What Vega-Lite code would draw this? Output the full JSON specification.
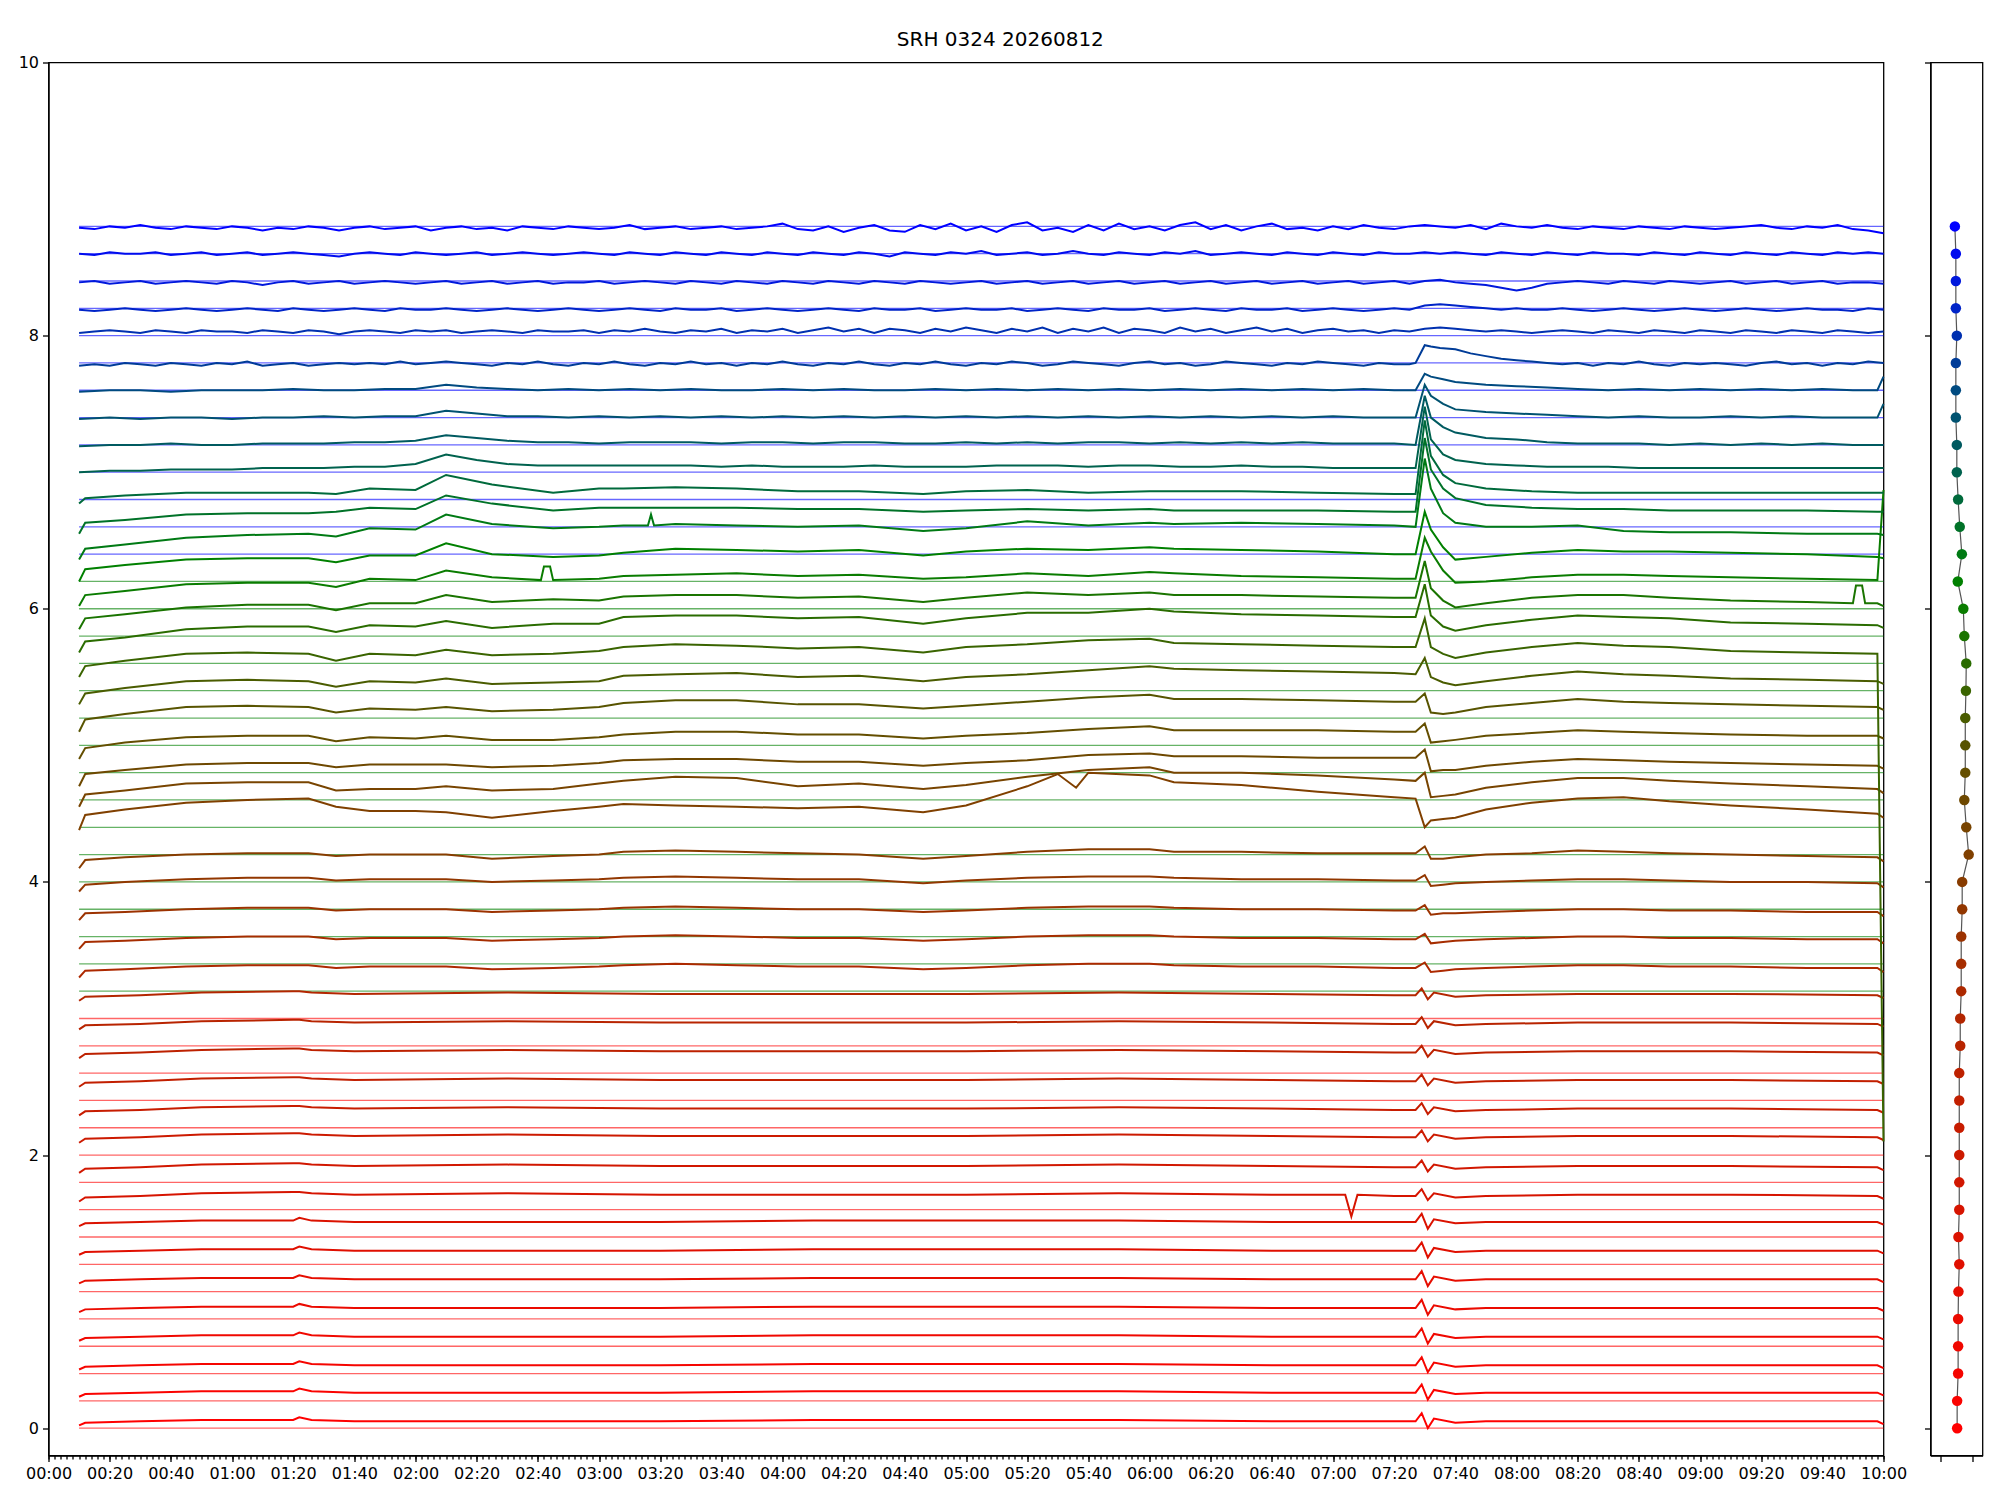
{
"$schema": "https://vega.github.io/schema/vega-lite/v6.json",
"background": "white",
"padding": {"left": 16.5, "top": 29.5, "right": 5, "bottom": 5},
"bounds": "flush",
"spacing": 47,
"title": {"text": "SRH 0324 20260812", "fontSize": 20, "font": "DejaVu Sans", "fontWeight": "normal", "color": "#000000", "anchor": "middle", "offset": -12, "baseline": "alphabetic"},
"config": {
  "font": "DejaVu Sans",
  "view": {"stroke": "#000000", "strokeWidth": 1.3},
  "axis": {"domainColor": "#000000", "domainWidth": 1.3, "tickColor": "#000000", "tickWidth": 1.3, "labelFont": "DejaVu Sans", "labelFontSize": 16, "labelColor": "#000000", "grid": false, "labelPadding": 4, "labelFlush": false, "labelOverlap": false}
},
"datasets": {
"refs": [
{"y":0,"g":"r"},{"y":0.2,"g":"r"},{"y":0.4,"g":"r"},{"y":0.6,"g":"r"},{"y":0.8,"g":"r"},{"y":1.0,"g":"r"},{"y":1.2,"g":"r"},{"y":1.4,"g":"r"},{"y":1.6,"g":"r"},{"y":1.8,"g":"r"},{"y":2.0,"g":"r"},{"y":2.2,"g":"r"},{"y":2.4,"g":"r"},{"y":2.6,"g":"r"},{"y":2.8,"g":"r"},{"y":3.0,"g":"r"},
{"y":3.2,"g":"g"},{"y":3.4,"g":"g"},{"y":3.6,"g":"g"},{"y":3.8,"g":"g"},{"y":4.0,"g":"g"},{"y":4.2,"g":"g"},{"y":4.4,"g":"g"},{"y":4.6,"g":"g"},{"y":4.8,"g":"g"},{"y":5.0,"g":"g"},{"y":5.2,"g":"g"},{"y":5.4,"g":"g"},{"y":5.6,"g":"g"},{"y":5.8,"g":"g"},{"y":6.0,"g":"g"},{"y":6.2,"g":"g"},
{"y":6.4,"g":"b"},{"y":6.6,"g":"b"},{"y":6.8,"g":"b"},{"y":7.0,"g":"b"},{"y":7.2,"g":"b"},{"y":7.4,"g":"b"},{"y":7.6,"g":"b"},{"y":7.8,"g":"b"},{"y":8.0,"g":"b"},{"y":8.2,"g":"b"},{"y":8.4,"g":"b"},{"y":8.6,"g":"b"},{"y":8.8,"g":"b"}
],
"dots": [
{"k":"c0","y":0,"x":0.04},{"k":"c1","y":0.2,"x":0.04},{"k":"c2","y":0.4,"x":0.1},{"k":"c3","y":0.6,"x":0.1},{"k":"c4","y":0.8,"x":0.1},{"k":"c5","y":1.0,"x":0.12},{"k":"c6","y":1.2,"x":0.17},{"k":"c7","y":1.4,"x":0.12},{"k":"c8","y":1.6,"x":0.17},{"k":"c9","y":1.8,"x":0.17},{"k":"c10","y":2.0,"x":0.17},{"k":"c11","y":2.2,"x":0.17},{"k":"c12","y":2.4,"x":0.17},{"k":"c13","y":2.6,"x":0.17},{"k":"c14","y":2.8,"x":0.23},{"k":"c15","y":3.0,"x":0.23},{"k":"c16","y":3.2,"x":0.29},{"k":"c17","y":3.4,"x":0.29},{"k":"c18","y":3.6,"x":0.29},{"k":"c19","y":3.8,"x":0.35},{"k":"c20","y":4.0,"x":0.35},{"k":"c21","y":4.2,"x":0.75},{"k":"c22","y":4.4,"x":0.6},{"k":"c23","y":4.6,"x":0.48},{"k":"c24","y":4.8,"x":0.54},{"k":"c25","y":5.0,"x":0.54},{"k":"c26","y":5.2,"x":0.54},{"k":"c27","y":5.4,"x":0.58},{"k":"c28","y":5.6,"x":0.6},{"k":"c29","y":5.8,"x":0.48},{"k":"c30","y":6.0,"x":0.42},{"k":"c31","y":6.2,"x":0.08},{"k":"c32","y":6.4,"x":0.33},{"k":"c33","y":6.6,"x":0.2},{"k":"c34","y":6.8,"x":0.1},{"k":"c35","y":7.0,"x":0.02},{"k":"c36","y":7.2,"x":0.02},{"k":"c37","y":7.4,"x":-0.04},{"k":"c38","y":7.6,"x":-0.04},{"k":"c39","y":7.8,"x":-0.04},{"k":"c40","y":8.0,"x":0.02},{"k":"c41","y":8.2,"x":-0.04},{"k":"c42","y":8.4,"x":-0.04},{"k":"c43","y":8.6,"x":-0.04},{"k":"c44","y":8.8,"x":-0.1}
],
"traces": [
{"t":10,"c0":0.02,"c1":0.23,"c2":0.43,"c3":0.64,"c4":0.85,"c5":1.06,"c6":1.27,"c7":1.48,"c8":1.66,"c9":1.87,"c10":2.09,"c11":2.29,"c12":2.50,"c13":2.71,"c14":2.92,"c15":3.13},
{"t":12,"c0":0.04,"c1":0.25,"c2":0.45,"c3":0.66,"c4":0.87,"c5":1.08,"c6":1.29,"c7":1.50,"c8":1.69,"c9":1.90,"c10":2.12,"c11":2.32,"c12":2.53,"c13":2.74,"c14":2.95,"c15":3.16},
{"t":30,"c0":0.05,"c1":0.26,"c2":0.46,"c3":0.67,"c4":0.88,"c5":1.09,"c6":1.30,"c7":1.51,"c8":1.70,"c9":1.91,"c10":2.13,"c11":2.33,"c12":2.54,"c13":2.75,"c14":2.96,"c15":3.17},
{"t":50,"c0":0.06,"c1":0.27,"c2":0.47,"c3":0.68,"c4":0.89,"c5":1.10,"c6":1.31,"c7":1.52,"c8":1.72,"c9":1.93,"c10":2.15,"c11":2.35,"c12":2.56,"c13":2.77,"c14":2.98,"c15":3.19},
{"t":80,"c0":0.06,"c1":0.27,"c2":0.47,"c3":0.68,"c4":0.89,"c5":1.10,"c6":1.31,"c7":1.52,"c8":1.73,"c9":1.94,"c10":2.16,"c11":2.36,"c12":2.57,"c13":2.78,"c14":2.99,"c15":3.20},
{"t":82,"c0":0.08,"c1":0.29,"c2":0.49,"c3":0.70,"c4":0.91,"c5":1.12,"c6":1.33,"c7":1.54,"c8":1.73,"c9":1.94,"c10":2.16,"c11":2.36,"c12":2.57,"c13":2.78,"c14":2.99,"c15":3.20},
{"t":86,"c0":0.06,"c1":0.27,"c2":0.47,"c3":0.68,"c4":0.89,"c5":1.10,"c6":1.31,"c7":1.52,"c8":1.72,"c9":1.93,"c10":2.15,"c11":2.35,"c12":2.56,"c13":2.77,"c14":2.98,"c15":3.19},
{"t":100,"c0":0.05,"c1":0.26,"c2":0.46,"c3":0.67,"c4":0.88,"c5":1.09,"c6":1.30,"c7":1.51,"c8":1.71,"c9":1.92,"c10":2.14,"c11":2.34,"c12":2.55,"c13":2.76,"c14":2.97,"c15":3.18},
{"t":150,"c0":0.05,"c1":0.26,"c2":0.46,"c3":0.67,"c4":0.88,"c5":1.09,"c6":1.30,"c7":1.51,"c8":1.72,"c9":1.93,"c10":2.15,"c11":2.35,"c12":2.56,"c13":2.77,"c14":2.98,"c15":3.19},
{"t":200,"c0":0.05,"c1":0.26,"c2":0.46,"c3":0.67,"c4":0.88,"c5":1.09,"c6":1.30,"c7":1.51,"c8":1.71,"c9":1.92,"c10":2.14,"c11":2.34,"c12":2.55,"c13":2.76,"c14":2.97,"c15":3.18},
{"t":250,"c0":0.06,"c1":0.27,"c2":0.47,"c3":0.68,"c4":0.89,"c5":1.10,"c6":1.31,"c7":1.52,"c8":1.71,"c9":1.92,"c10":2.14,"c11":2.34,"c12":2.55,"c13":2.76,"c14":2.97,"c15":3.18},
{"t":300,"c0":0.06,"c1":0.27,"c2":0.47,"c3":0.68,"c4":0.89,"c5":1.10,"c6":1.31,"c7":1.52,"c8":1.71,"c9":1.92,"c10":2.14,"c11":2.34,"c12":2.55,"c13":2.76,"c14":2.97,"c15":3.18},
{"t":350,"c0":0.06,"c1":0.27,"c2":0.47,"c3":0.68,"c4":0.89,"c5":1.10,"c6":1.31,"c7":1.52,"c8":1.72,"c9":1.93,"c10":2.15,"c11":2.35,"c12":2.56,"c13":2.77,"c14":2.98,"c15":3.19},
{"t":400,"c0":0.05,"c1":0.26,"c2":0.46,"c3":0.67,"c4":0.88,"c5":1.09,"c6":1.30,"c7":1.51,"c8":1.71,"c9":1.92,"c10":2.14,"c11":2.34,"c12":2.55,"c13":2.76,"c14":2.97,"c15":3.18},
{"t":424,"c8":1.71},
{"t":426,"c8":1.55},
{"t":428,"c8":1.71},
{"t":440,"c0":0.05,"c1":0.26,"c2":0.46,"c3":0.67,"c4":0.88,"c5":1.09,"c6":1.30,"c7":1.51,"c8":1.70,"c9":1.91,"c10":2.13,"c11":2.33,"c12":2.54,"c13":2.75,"c14":2.96,"c15":3.17},
{"t":447,"c0":0.05,"c1":0.26,"c2":0.46,"c3":0.67,"c4":0.88,"c5":1.09,"c6":1.30,"c7":1.51,"c8":1.70,"c9":1.91,"c10":2.13,"c11":2.33,"c12":2.54,"c13":2.75,"c14":2.96,"c15":3.17},
{"t":449,"c0":0.11,"c1":0.32,"c2":0.52,"c3":0.73,"c4":0.94,"c5":1.15,"c6":1.36,"c7":1.57,"c8":1.75,"c9":1.96,"c10":2.18,"c11":2.38,"c12":2.59,"c13":2.80,"c14":3.01,"c15":3.22},
{"t":451,"c0":0.00,"c1":0.21,"c2":0.41,"c3":0.62,"c4":0.83,"c5":1.04,"c6":1.25,"c7":1.46,"c8":1.67,"c9":1.88,"c10":2.10,"c11":2.30,"c12":2.51,"c13":2.72,"c14":2.93,"c15":3.14},
{"t":453,"c0":0.07,"c1":0.28,"c2":0.48,"c3":0.69,"c4":0.90,"c5":1.11,"c6":1.32,"c7":1.53,"c8":1.72,"c9":1.93,"c10":2.15,"c11":2.35,"c12":2.56,"c13":2.77,"c14":2.98,"c15":3.19},
{"t":460,"c0":0.04,"c1":0.25,"c2":0.45,"c3":0.66,"c4":0.87,"c5":1.08,"c6":1.29,"c7":1.50,"c8":1.69,"c9":1.90,"c10":2.12,"c11":2.32,"c12":2.53,"c13":2.74,"c14":2.95,"c15":3.16},
{"t":470,"c0":0.05,"c1":0.26,"c2":0.46,"c3":0.67,"c4":0.88,"c5":1.09,"c6":1.30,"c7":1.51,"c8":1.70,"c9":1.91,"c10":2.13,"c11":2.33,"c12":2.54,"c13":2.75,"c14":2.96,"c15":3.17},
{"t":500,"c0":0.05,"c1":0.26,"c2":0.46,"c3":0.67,"c4":0.88,"c5":1.09,"c6":1.30,"c7":1.51,"c8":1.71,"c9":1.92,"c10":2.14,"c11":2.34,"c12":2.55,"c13":2.76,"c14":2.97,"c15":3.18},
{"t":550,"c0":0.05,"c1":0.26,"c2":0.46,"c3":0.67,"c4":0.88,"c5":1.09,"c6":1.30,"c7":1.51,"c8":1.71,"c9":1.92,"c10":2.14,"c11":2.34,"c12":2.55,"c13":2.76,"c14":2.97,"c15":3.18},
{"t":598,"c0":0.05,"c1":0.26,"c2":0.46,"c3":0.67,"c4":0.88,"c5":1.09,"c6":1.30,"c7":1.51,"c8":1.70,"c9":1.91,"c10":2.13,"c11":2.33,"c12":2.54,"c13":2.75,"c14":2.96,"c15":3.17},
{"t":600,"c0":0.03,"c1":0.24,"c2":0.44,"c3":0.65,"c4":0.86,"c5":1.07,"c6":1.28,"c7":1.49,"c8":1.68,"c9":1.89,"c10":2.11,"c11":2.31,"c12":2.52,"c13":2.73,"c14":2.94,"c15":3.15},

{"t":10,"c16":3.30,"c17":3.51,"c18":3.72,"c19":3.93,"c20":4.10,"c21":4.38,"c22":4.55,"c23":4.70,"c24":4.90,"c25":5.10,"c26":5.30,"c27":5.50,"c28":5.68,"c29":5.85,"c30":6.02,"c31":6.20,"c32":6.36,"c33":6.55,"c34":6.77},
{"t":12,"c16":3.35,"c17":3.56,"c18":3.77,"c19":3.98,"c20":4.16,"c21":4.49,"c22":4.64,"c23":4.79,"c24":4.98,"c25":5.19,"c26":5.38,"c27":5.58,"c28":5.76,"c29":5.93,"c30":6.10,"c31":6.29,"c32":6.44,"c33":6.63,"c34":6.81},
{"t":25,"c16":3.36,"c17":3.57,"c18":3.78,"c19":4.00,"c20":4.18,"c21":4.53,"c22":4.67,"c23":4.82,"c24":5.02,"c25":5.23,"c26":5.42,"c27":5.62,"c28":5.79,"c29":5.96,"c30":6.13,"c31":6.32,"c32":6.47,"c33":6.65,"c34":6.83},
{"t":45,"c16":3.38,"c17":3.59,"c18":3.80,"c19":4.02,"c20":4.20,"c21":4.58,"c22":4.72,"c23":4.86,"c24":5.06,"c25":5.28,"c26":5.47,"c27":5.67,"c28":5.85,"c29":6.01,"c30":6.18,"c31":6.36,"c32":6.52,"c33":6.69,"c34":6.85},
{"t":65,"c16":3.39,"c17":3.60,"c18":3.81,"c19":4.03,"c20":4.21,"c21":4.60,"c22":4.73,"c23":4.87,"c24":5.07,"c25":5.29,"c26":5.48,"c27":5.68,"c28":5.87,"c29":6.03,"c30":6.19,"c31":6.37,"c32":6.54,"c33":6.70,"c34":6.85},
{"t":85,"c16":3.39,"c17":3.60,"c18":3.81,"c19":4.03,"c20":4.21,"c21":4.61,"c22":4.73,"c23":4.87,"c24":5.07,"c25":5.28,"c26":5.47,"c27":5.67,"c28":5.87,"c29":6.03,"c30":6.19,"c31":6.37,"c32":6.55,"c33":6.70,"c34":6.85},
{"t":94,"c16":3.37,"c17":3.58,"c18":3.79,"c19":4.01,"c20":4.19,"c21":4.55,"c22":4.67,"c23":4.84,"c24":5.03,"c25":5.24,"c26":5.43,"c27":5.62,"c28":5.83,"c29":5.99,"c30":6.16,"c31":6.34,"c32":6.53,"c33":6.71,"c34":6.84},
{"t":105,"c16":3.38,"c17":3.59,"c18":3.80,"c19":4.02,"c20":4.20,"c21":4.52,"c22":4.68,"c23":4.86,"c24":5.06,"c25":5.27,"c26":5.47,"c27":5.67,"c28":5.88,"c29":6.04,"c30":6.22,"c31":6.39,"c32":6.59,"c33":6.74,"c34":6.88},
{"t":120,"c16":3.38,"c17":3.59,"c18":3.80,"c19":4.02,"c20":4.20,"c21":4.52,"c22":4.68,"c23":4.86,"c24":5.05,"c25":5.26,"c26":5.46,"c27":5.66,"c28":5.87,"c29":6.04,"c30":6.21,"c31":6.39,"c32":6.58,"c33":6.73,"c34":6.87},
{"t":130,"c16":3.38,"c17":3.59,"c18":3.80,"c19":4.02,"c20":4.20,"c21":4.51,"c22":4.70,"c23":4.86,"c24":5.07,"c25":5.28,"c26":5.49,"c27":5.70,"c28":5.91,"c29":6.10,"c30":6.28,"c31":6.48,"c32":6.69,"c33":6.83,"c34":6.98},
{"t":145,"c16":3.36,"c17":3.57,"c18":3.78,"c19":4.00,"c20":4.17,"c21":4.47,"c22":4.67,"c23":4.84,"c24":5.04,"c25":5.25,"c26":5.45,"c27":5.66,"c28":5.86,"c29":6.05,"c30":6.23,"c31":6.40,"c32":6.62,"c33":6.77,"c34":6.91},
{"t":161,"c30":6.21},
{"t":162,"c30":6.31},
{"t":164,"c30":6.31},
{"t":165,"c16":3.37,"c17":3.58,"c18":3.79,"c19":4.01,"c20":4.19,"c21":4.52,"c22":4.68,"c23":4.85,"c24":5.04,"c25":5.26,"c26":5.46,"c27":5.67,"c28":5.89,"c29":6.07,"c30":6.21,"c31":6.38,"c32":6.59,"c33":6.72,"c34":6.85},
{"t":180,"c16":3.38,"c17":3.59,"c18":3.80,"c19":4.02,"c20":4.20,"c21":4.55,"c22":4.72,"c23":4.87,"c24":5.06,"c25":5.28,"c26":5.47,"c27":5.69,"c28":5.89,"c29":6.06,"c30":6.22,"c31":6.39,"c32":6.60,"c33":6.74,"c34":6.88},
{"t":188,"c16":3.39,"c17":3.60,"c18":3.81,"c19":4.03,"c20":4.22,"c21":4.57,"c22":4.74,"c23":4.89,"c24":5.08,"c25":5.31,"c26":5.51,"c27":5.72,"c28":5.94,"c29":6.09,"c30":6.24,"c31":6.41,"c32":6.61,"c33":6.74,"c34":6.88},
{"t":196,"c32":6.61},
{"t":197,"c32":6.69},
{"t":198,"c32":6.61},
{"t":205,"c16":3.40,"c17":3.61,"c18":3.82,"c19":4.04,"c20":4.23,"c21":4.56,"c22":4.77,"c23":4.90,"c24":5.10,"c25":5.33,"c26":5.52,"c27":5.74,"c28":5.95,"c29":6.10,"c30":6.25,"c31":6.44,"c32":6.62,"c33":6.74,"c34":6.89},
{"t":225,"c16":3.39,"c17":3.60,"c18":3.81,"c19":4.03,"c20":4.22,"c21":4.55,"c22":4.76,"c23":4.90,"c24":5.10,"c25":5.33,"c26":5.53,"c27":5.73,"c28":5.95,"c29":6.10,"c30":6.26,"c31":6.43,"c32":6.61,"c33":6.74,"c34":6.88},
{"t":245,"c16":3.38,"c17":3.59,"c18":3.80,"c19":4.02,"c20":4.21,"c21":4.54,"c22":4.70,"c23":4.88,"c24":5.08,"c25":5.30,"c26":5.50,"c27":5.71,"c28":5.93,"c29":6.08,"c30":6.24,"c31":6.42,"c32":6.60,"c33":6.73,"c34":6.86},
{"t":265,"c16":3.38,"c17":3.59,"c18":3.80,"c19":4.02,"c20":4.20,"c21":4.55,"c22":4.72,"c23":4.88,"c24":5.08,"c25":5.30,"c26":5.51,"c27":5.72,"c28":5.94,"c29":6.09,"c30":6.25,"c31":6.43,"c32":6.61,"c33":6.73,"c34":6.86},
{"t":286,"c16":3.36,"c17":3.57,"c18":3.78,"c19":3.99,"c20":4.17,"c21":4.51,"c22":4.68,"c23":4.85,"c24":5.05,"c25":5.27,"c26":5.47,"c27":5.68,"c28":5.89,"c29":6.05,"c30":6.22,"c31":6.39,"c32":6.57,"c33":6.71,"c34":6.84},
{"t":300,"c16":3.37,"c17":3.58,"c18":3.79,"c19":4.01,"c20":4.19,"c21":4.56,"c22":4.71,"c23":4.87,"c24":5.07,"c25":5.29,"c26":5.50,"c27":5.72,"c28":5.93,"c29":6.08,"c30":6.23,"c31":6.42,"c32":6.59,"c33":6.72,"c34":6.86},
{"t":320,"c16":3.39,"c17":3.60,"c18":3.81,"c19":4.03,"c20":4.22,"c21":4.70,"c22":4.77,"c23":4.89,"c24":5.09,"c25":5.32,"c26":5.52,"c27":5.74,"c28":5.97,"c29":6.12,"c30":6.26,"c31":6.44,"c32":6.64,"c33":6.73,"c34":6.87},
{"t":330,"c21":4.79},
{"t":336,"c21":4.69},
{"t":340,"c16":3.40,"c17":3.61,"c18":3.82,"c19":4.04,"c20":4.24,"c21":4.80,"c22":4.82,"c23":4.93,"c24":5.12,"c25":5.35,"c26":5.55,"c27":5.77,"c28":5.97,"c29":6.10,"c30":6.24,"c31":6.43,"c32":6.61,"c33":6.72,"c34":6.85},
{"t":360,"c16":3.40,"c17":3.61,"c18":3.82,"c19":4.04,"c20":4.24,"c21":4.78,"c22":4.84,"c23":4.94,"c24":5.14,"c25":5.37,"c26":5.58,"c27":5.78,"c28":6.00,"c29":6.12,"c30":6.27,"c31":6.45,"c32":6.63,"c33":6.73,"c34":6.86},
{"t":368,"c16":3.39,"c17":3.60,"c18":3.81,"c19":4.03,"c20":4.22,"c21":4.73,"c22":4.80,"c23":4.92,"c24":5.11,"c25":5.34,"c26":5.56,"c27":5.75,"c28":5.98,"c29":6.10,"c30":6.26,"c31":6.44,"c32":6.62,"c33":6.72,"c34":6.86},
{"t":390,"c16":3.38,"c17":3.59,"c18":3.80,"c19":4.02,"c20":4.22,"c21":4.71,"c22":4.80,"c23":4.92,"c24":5.11,"c25":5.34,"c26":5.55,"c27":5.74,"c28":5.96,"c29":6.10,"c30":6.24,"c31":6.43,"c32":6.63,"c33":6.72,"c34":6.86},
{"t":415,"c16":3.38,"c17":3.59,"c18":3.80,"c19":4.02,"c20":4.21,"c21":4.66,"c22":4.78,"c23":4.91,"c24":5.11,"c25":5.33,"c26":5.54,"c27":5.73,"c28":5.95,"c29":6.09,"c30":6.23,"c31":6.42,"c32":6.62,"c33":6.72,"c34":6.85},
{"t":440,"c16":3.37,"c17":3.58,"c18":3.79,"c19":4.01,"c20":4.21,"c21":4.62,"c22":4.75,"c23":4.91,"c24":5.10,"c25":5.32,"c26":5.53,"c27":5.72,"c28":5.94,"c29":6.08,"c30":6.22,"c31":6.40,"c32":6.61,"c33":6.71,"c34":6.84},
{"t":447,"c16":3.37,"c17":3.58,"c18":3.79,"c19":4.01,"c20":4.21,"c21":4.61,"c22":4.74,"c23":4.91,"c24":5.10,"c25":5.32,"c26":5.52,"c27":5.72,"c28":5.94,"c29":6.08,"c30":6.22,"c31":6.40,"c32":6.60,"c33":6.71,"c34":6.84},
{"t":450,"c16":3.41,"c17":3.62,"c18":3.83,"c19":4.05,"c20":4.26,"c21":4.40,"c22":4.80,"c23":4.97,"c24":5.16,"c25":5.38,"c26":5.64,"c27":5.93,"c28":6.18,"c29":6.35,"c30":6.52,"c31":6.71,"c32":7.10,"c33":7.25,"c34":7.38},
{"t":452,"c16":3.34,"c17":3.55,"c18":3.76,"c19":3.97,"c20":4.17,"c21":4.45,"c22":4.62,"c23":4.81,"c24":5.02,"c25":5.24,"c26":5.50,"c27":5.72,"c28":5.95,"c29":6.15,"c30":6.42,"c31":6.58,"c32":6.88,"c33":7.02,"c34":7.12},
{"t":456,"c16":3.35,"c17":3.56,"c18":3.77,"c19":3.98,"c20":4.17,"c21":4.46,"c22":4.63,"c23":4.82,"c24":5.03,"c25":5.23,"c26":5.46,"c27":5.67,"c28":5.87,"c29":6.06,"c30":6.28,"c31":6.45,"c32":6.70,"c33":6.88,"c34":6.98},
{"t":460,"c16":3.36,"c17":3.57,"c18":3.77,"c19":3.99,"c20":4.18,"c21":4.47,"c22":4.64,"c23":4.82,"c24":5.04,"c25":5.24,"c26":5.44,"c27":5.64,"c28":5.84,"c29":6.01,"c30":6.19,"c31":6.36,"c32":6.63,"c33":6.81,"c34":6.92},
{"t":470,"c16":3.37,"c17":3.58,"c18":3.78,"c19":4.00,"c20":4.20,"c21":4.53,"c22":4.69,"c23":4.85,"c24":5.07,"c25":5.28,"c26":5.47,"c27":5.68,"c28":5.88,"c29":6.04,"c30":6.20,"c31":6.38,"c32":6.60,"c33":6.76,"c34":6.88},
{"t":485,"c16":3.38,"c17":3.59,"c18":3.79,"c19":4.01,"c20":4.21,"c21":4.58,"c22":4.73,"c23":4.88,"c24":5.09,"c25":5.31,"c26":5.51,"c27":5.72,"c28":5.92,"c29":6.08,"c30":6.23,"c31":6.41,"c32":6.60,"c33":6.74,"c34":6.86},
{"t":500,"c16":3.39,"c17":3.60,"c18":3.80,"c19":4.02,"c20":4.23,"c21":4.61,"c22":4.76,"c23":4.90,"c24":5.11,"c25":5.34,"c26":5.54,"c27":5.75,"c28":5.95,"c29":6.10,"c30":6.25,"c31":6.43,"c32":6.61,"c33":6.73,"c34":6.85},
{"t":515,"c16":3.39,"c17":3.60,"c18":3.80,"c19":4.02,"c20":4.22,"c21":4.62,"c22":4.76,"c23":4.89,"c24":5.10,"c25":5.32,"c26":5.52,"c27":5.73,"c28":5.94,"c29":6.10,"c30":6.25,"c31":6.42,"c32":6.57,"c33":6.73,"c34":6.85},
{"t":530,"c16":3.38,"c17":3.59,"c18":3.79,"c19":4.01,"c20":4.21,"c21":4.59,"c22":4.74,"c23":4.88,"c24":5.09,"c25":5.31,"c26":5.51,"c27":5.72,"c28":5.93,"c29":6.08,"c30":6.24,"c31":6.42,"c32":6.56,"c33":6.72,"c34":6.85},
{"t":550,"c16":3.38,"c17":3.59,"c18":3.79,"c19":4.00,"c20":4.20,"c21":4.56,"c22":4.72,"c23":4.87,"c24":5.08,"c25":5.30,"c26":5.49,"c27":5.69,"c28":5.90,"c29":6.06,"c30":6.23,"c31":6.41,"c32":6.56,"c33":6.72,"c34":6.85},
{"t":575,"c16":3.37,"c17":3.58,"c18":3.78,"c19":4.00,"c20":4.19,"c21":4.53,"c22":4.70,"c23":4.86,"c24":5.07,"c25":5.29,"c26":5.48,"c27":5.68,"c28":5.89,"c29":6.05,"c30":6.22,"c31":6.40,"c32":6.55,"c33":6.72,"c34":6.85},
{"t":590,"c29":6.04},
{"t":591,"c29":6.17},
{"t":593,"c29":6.17},
{"t":594,"c29":6.04},
{"t":598,"c16":3.37,"c17":3.58,"c18":3.78,"c19":3.99,"c20":4.18,"c21":4.50,"c22":4.68,"c23":4.85,"c24":5.07,"c25":5.28,"c26":5.47,"c27":5.67,"c28":5.88,"c29":6.04,"c30":6.21,"c31":6.38,"c32":6.55,"c33":6.71,"c34":6.85},
{"t":600,"c16":3.34,"c17":3.55,"c18":3.75,"c19":3.96,"c20":4.15,"c21":4.47,"c22":4.65,"c23":4.83,"c24":5.05,"c25":5.26,"c26":5.45,"c27":2.10,"c28":5.86,"c29":6.02,"c30":6.87,"c31":6.37,"c32":6.54,"c33":6.71,"c34":6.85},

{"t":10,"c35":7.00,"c36":7.19,"c37":7.39,"c38":7.59,"c39":7.78,"c40":8.02,"c41":8.19,"c42":8.39,"c43":8.60,"c44":8.79},
{"t":15,"c39":7.79,"c40":8.03,"c41":8.18,"c42":8.40,"c43":8.59,"c44":8.78},
{"t":20,"c35":7.01,"c36":7.20,"c37":7.40,"c38":7.60,"c39":7.78,"c40":8.04,"c41":8.19,"c42":8.38,"c43":8.61,"c44":8.80},
{"t":25,"c39":7.80,"c40":8.03,"c41":8.20,"c42":8.39,"c43":8.60,"c44":8.79},
{"t":30,"c35":7.01,"c36":7.20,"c37":7.39,"c38":7.60,"c39":7.79,"c40":8.02,"c41":8.19,"c42":8.40,"c43":8.60,"c44":8.81},
{"t":35,"c39":7.78,"c40":8.04,"c41":8.18,"c42":8.38,"c43":8.61,"c44":8.79},
{"t":40,"c35":7.02,"c36":7.21,"c37":7.40,"c38":7.59,"c39":7.80,"c40":8.03,"c41":8.19,"c42":8.39,"c43":8.59,"c44":8.78},
{"t":45,"c39":7.79,"c40":8.02,"c41":8.20,"c42":8.40,"c43":8.60,"c44":8.80},
{"t":50,"c35":7.02,"c36":7.20,"c37":7.40,"c38":7.60,"c39":7.78,"c40":8.04,"c41":8.19,"c42":8.39,"c43":8.61,"c44":8.79},
{"t":55,"c39":7.80,"c40":8.03,"c41":8.18,"c42":8.38,"c43":8.59,"c44":8.78},
{"t":60,"c35":7.02,"c36":7.20,"c37":7.39,"c38":7.60,"c39":7.79,"c40":8.03,"c41":8.19,"c42":8.40,"c43":8.60,"c44":8.80},
{"t":65,"c39":7.81,"c40":8.02,"c41":8.20,"c42":8.39,"c43":8.61,"c44":8.79},
{"t":70,"c35":7.03,"c36":7.21,"c37":7.40,"c38":7.60,"c39":7.78,"c40":8.04,"c41":8.19,"c42":8.37,"c43":8.59,"c44":8.77},
{"t":75,"c39":7.79,"c40":8.03,"c41":8.18,"c42":8.39,"c43":8.60,"c44":8.79},
{"t":80,"c35":7.03,"c36":7.21,"c37":7.40,"c38":7.61,"c39":7.80,"c40":8.02,"c41":8.20,"c42":8.40,"c43":8.61,"c44":8.78},
{"t":85,"c39":7.78,"c40":8.04,"c41":8.19,"c42":8.38,"c43":8.60,"c44":8.80},
{"t":90,"c35":7.03,"c36":7.21,"c37":7.41,"c38":7.60,"c39":7.79,"c40":8.03,"c41":8.18,"c42":8.39,"c43":8.59,"c44":8.79},
{"t":95,"c39":7.80,"c40":8.01,"c41":8.19,"c42":8.40,"c43":8.58,"c44":8.77},
{"t":100,"c35":7.04,"c36":7.22,"c37":7.40,"c38":7.60,"c39":7.79,"c40":8.03,"c41":8.20,"c42":8.38,"c43":8.60,"c44":8.79},
{"t":105,"c39":7.80,"c40":8.04,"c41":8.19,"c42":8.39,"c43":8.61,"c44":8.80},
{"t":110,"c35":7.04,"c36":7.22,"c37":7.41,"c38":7.61,"c39":7.79,"c40":8.03,"c41":8.18,"c42":8.40,"c43":8.60,"c44":8.78},
{"t":115,"c39":7.81,"c40":8.02,"c41":8.20,"c42":8.39,"c43":8.59,"c44":8.79},
{"t":120,"c35":7.06,"c36":7.23,"c37":7.41,"c38":7.61,"c39":7.79,"c40":8.04,"c41":8.19,"c42":8.38,"c43":8.61,"c44":8.80},
{"t":125,"c39":7.80,"c40":8.03,"c41":8.19,"c42":8.39,"c43":8.60,"c44":8.77},
{"t":130,"c35":7.13,"c36":7.27,"c37":7.45,"c38":7.64,"c39":7.81,"c40":8.04,"c41":8.20,"c42":8.40,"c43":8.59,"c44":8.79},
{"t":135,"c39":7.80,"c40":8.02,"c41":8.19,"c42":8.38,"c43":8.60,"c44":8.80},
{"t":140,"c35":7.09,"c36":7.25,"c37":7.43,"c38":7.62,"c39":7.79,"c40":8.03,"c41":8.18,"c42":8.39,"c43":8.61,"c44":8.78},
{"t":145,"c39":7.78,"c40":8.04,"c41":8.19,"c42":8.40,"c43":8.59,"c44":8.79},
{"t":150,"c35":7.06,"c36":7.23,"c37":7.41,"c38":7.61,"c39":7.80,"c40":8.03,"c41":8.20,"c42":8.38,"c43":8.60,"c44":8.77},
{"t":155,"c39":7.79,"c40":8.02,"c41":8.19,"c42":8.39,"c43":8.61,"c44":8.80},
{"t":160,"c35":7.05,"c36":7.22,"c37":7.41,"c38":7.60,"c39":7.81,"c40":8.04,"c41":8.18,"c42":8.40,"c43":8.60,"c44":8.79},
{"t":165,"c39":7.79,"c40":8.03,"c41":8.19,"c42":8.38,"c43":8.59,"c44":8.78},
{"t":170,"c35":7.05,"c36":7.22,"c37":7.40,"c38":7.61,"c39":7.78,"c40":8.03,"c41":8.20,"c42":8.39,"c43":8.60,"c44":8.80},
{"t":175,"c39":7.80,"c40":8.04,"c41":8.19,"c42":8.39,"c43":8.61,"c44":8.79},
{"t":180,"c35":7.05,"c36":7.21,"c37":7.41,"c38":7.60,"c39":7.79,"c40":8.02,"c41":8.18,"c42":8.40,"c43":8.60,"c44":8.78},
{"t":185,"c39":7.81,"c40":8.04,"c41":8.19,"c42":8.38,"c43":8.59,"c44":8.79},
{"t":190,"c35":7.05,"c36":7.22,"c37":7.40,"c38":7.61,"c39":7.79,"c40":8.03,"c41":8.20,"c42":8.39,"c43":8.61,"c44":8.81},
{"t":195,"c39":7.78,"c40":8.05,"c41":8.19,"c42":8.40,"c43":8.60,"c44":8.78},
{"t":200,"c35":7.05,"c36":7.22,"c37":7.41,"c38":7.60,"c39":7.80,"c40":8.03,"c41":8.18,"c42":8.39,"c43":8.59,"c44":8.79},
{"t":205,"c39":7.79,"c40":8.02,"c41":8.20,"c42":8.38,"c43":8.61,"c44":8.80},
{"t":210,"c35":7.05,"c36":7.22,"c37":7.40,"c38":7.61,"c39":7.81,"c40":8.04,"c41":8.19,"c42":8.40,"c43":8.60,"c44":8.78},
{"t":215,"c39":7.79,"c40":8.03,"c41":8.19,"c42":8.39,"c43":8.59,"c44":8.79},
{"t":220,"c35":7.04,"c36":7.21,"c37":7.41,"c38":7.60,"c39":7.80,"c40":8.05,"c41":8.20,"c42":8.38,"c43":8.61,"c44":8.80},
{"t":225,"c39":7.78,"c40":8.02,"c41":8.18,"c42":8.40,"c43":8.60,"c44":8.78},
{"t":230,"c35":7.05,"c36":7.22,"c37":7.40,"c38":7.60,"c39":7.80,"c40":8.04,"c41":8.19,"c42":8.39,"c43":8.59,"c44":8.79},
{"t":235,"c39":7.79,"c40":8.03,"c41":8.20,"c42":8.38,"c43":8.61,"c44":8.80},
{"t":240,"c35":7.04,"c36":7.22,"c37":7.41,"c38":7.61,"c39":7.81,"c40":8.05,"c41":8.19,"c42":8.40,"c43":8.60,"c44":8.82},
{"t":245,"c39":7.79,"c40":8.02,"c41":8.18,"c42":8.39,"c43":8.59,"c44":8.78},
{"t":250,"c35":7.04,"c36":7.21,"c37":7.40,"c38":7.60,"c39":7.78,"c40":8.04,"c41":8.19,"c42":8.38,"c43":8.61,"c44":8.77},
{"t":255,"c39":7.80,"c40":8.06,"c41":8.20,"c42":8.40,"c43":8.60,"c44":8.80},
{"t":260,"c35":7.04,"c36":7.22,"c37":7.41,"c38":7.61,"c39":7.79,"c40":8.03,"c41":8.19,"c42":8.39,"c43":8.59,"c44":8.76},
{"t":265,"c39":7.81,"c40":8.05,"c41":8.18,"c42":8.38,"c43":8.61,"c44":8.79},
{"t":270,"c35":7.05,"c36":7.22,"c37":7.40,"c38":7.60,"c39":7.79,"c40":8.02,"c41":8.20,"c42":8.40,"c43":8.60,"c44":8.81},
{"t":275,"c39":7.78,"c40":8.05,"c41":8.19,"c42":8.39,"c43":8.58,"c44":8.77},
{"t":280,"c35":7.04,"c36":7.21,"c37":7.41,"c38":7.60,"c39":7.80,"c40":8.04,"c41":8.19,"c42":8.38,"c43":8.61,"c44":8.76},
{"t":285,"c39":7.79,"c40":8.02,"c41":8.20,"c42":8.40,"c43":8.60,"c44":8.81},
{"t":290,"c35":7.04,"c36":7.21,"c37":7.40,"c38":7.61,"c39":7.81,"c40":8.05,"c41":8.18,"c42":8.39,"c43":8.59,"c44":8.78},
{"t":295,"c39":7.79,"c40":8.03,"c41":8.19,"c42":8.38,"c43":8.61,"c44":8.82},
{"t":300,"c35":7.04,"c36":7.22,"c37":7.41,"c38":7.60,"c39":7.78,"c40":8.06,"c41":8.20,"c42":8.39,"c43":8.60,"c44":8.77},
{"t":305,"c39":7.80,"c40":8.04,"c41":8.19,"c42":8.40,"c43":8.62,"c44":8.80},
{"t":310,"c35":7.05,"c36":7.21,"c37":7.40,"c38":7.61,"c39":7.79,"c40":8.02,"c41":8.19,"c42":8.38,"c43":8.59,"c44":8.76},
{"t":315,"c39":7.81,"c40":8.05,"c41":8.20,"c42":8.39,"c43":8.60,"c44":8.81},
{"t":320,"c35":7.05,"c36":7.22,"c37":7.41,"c38":7.60,"c39":7.80,"c40":8.03,"c41":8.18,"c42":8.40,"c43":8.61,"c44":8.83},
{"t":325,"c39":7.78,"c40":8.06,"c41":8.19,"c42":8.38,"c43":8.59,"c44":8.77},
{"t":330,"c35":7.05,"c36":7.21,"c37":7.40,"c38":7.61,"c39":7.79,"c40":8.02,"c41":8.20,"c42":8.39,"c43":8.60,"c44":8.79},
{"t":335,"c39":7.81,"c40":8.05,"c41":8.19,"c42":8.40,"c43":8.62,"c44":8.76},
{"t":340,"c35":7.04,"c36":7.22,"c37":7.41,"c38":7.60,"c39":7.80,"c40":8.03,"c41":8.18,"c42":8.38,"c43":8.60,"c44":8.81},
{"t":345,"c39":7.79,"c40":8.06,"c41":8.20,"c42":8.39,"c43":8.59,"c44":8.77},
{"t":350,"c35":7.05,"c36":7.22,"c37":7.40,"c38":7.61,"c39":7.78,"c40":8.02,"c41":8.19,"c42":8.40,"c43":8.61,"c44":8.82},
{"t":355,"c39":7.80,"c40":8.05,"c41":8.19,"c42":8.38,"c43":8.60,"c44":8.78},
{"t":360,"c35":7.05,"c36":7.21,"c37":7.41,"c38":7.60,"c39":7.81,"c40":8.04,"c41":8.20,"c42":8.39,"c43":8.59,"c44":8.80},
{"t":365,"c39":7.79,"c40":8.02,"c41":8.18,"c42":8.40,"c43":8.61,"c44":8.77},
{"t":370,"c35":7.04,"c36":7.22,"c37":7.40,"c38":7.61,"c39":7.80,"c40":8.06,"c41":8.19,"c42":8.38,"c43":8.60,"c44":8.81},
{"t":375,"c39":7.78,"c40":8.03,"c41":8.20,"c42":8.39,"c43":8.62,"c44":8.83},
{"t":380,"c35":7.04,"c36":7.21,"c37":7.41,"c38":7.60,"c39":7.79,"c40":8.05,"c41":8.19,"c42":8.40,"c43":8.59,"c44":8.78},
{"t":385,"c39":7.81,"c40":8.02,"c41":8.18,"c42":8.38,"c43":8.60,"c44":8.81},
{"t":390,"c35":7.05,"c36":7.22,"c37":7.40,"c38":7.61,"c39":7.80,"c40":8.04,"c41":8.20,"c42":8.39,"c43":8.61,"c44":8.77},
{"t":395,"c39":7.79,"c40":8.06,"c41":8.19,"c42":8.40,"c43":8.60,"c44":8.80},
{"t":400,"c35":7.04,"c36":7.21,"c37":7.41,"c38":7.60,"c39":7.78,"c40":8.03,"c41":8.19,"c42":8.38,"c43":8.59,"c44":8.82},
{"t":405,"c39":7.80,"c40":8.05,"c41":8.20,"c42":8.39,"c43":8.61,"c44":8.78},
{"t":410,"c35":7.04,"c36":7.22,"c37":7.40,"c38":7.61,"c39":7.79,"c40":8.02,"c41":8.18,"c42":8.40,"c43":8.60,"c44":8.79},
{"t":415,"c39":7.81,"c40":8.04,"c41":8.19,"c42":8.38,"c43":8.59,"c44":8.77},
{"t":420,"c35":7.03,"c36":7.21,"c37":7.41,"c38":7.60,"c39":7.80,"c40":8.05,"c41":8.20,"c42":8.39,"c43":8.61,"c44":8.80},
{"t":425,"c39":7.79,"c40":8.03,"c41":8.19,"c42":8.40,"c43":8.60,"c44":8.78},
{"t":430,"c35":7.03,"c36":7.21,"c37":7.40,"c38":7.61,"c39":7.78,"c40":8.04,"c41":8.18,"c42":8.38,"c43":8.59,"c44":8.81},
{"t":435,"c39":7.80,"c40":8.02,"c41":8.19,"c42":8.39,"c43":8.61,"c44":8.79},
{"t":440,"c35":7.03,"c36":7.21,"c37":7.40,"c38":7.60,"c39":7.79,"c40":8.04,"c41":8.20,"c42":8.40,"c43":8.60,"c44":8.78},
{"t":445,"c39":7.79,"c40":8.03,"c41":8.19,"c42":8.38,"c43":8.60,"c44":8.80},
{"t":447,"c35":7.03,"c36":7.20,"c37":7.40,"c38":7.60,"c39":7.80},
{"t":450,"c35":7.48,"c36":7.56,"c37":7.64,"c38":7.72,"c39":7.93,"c40":8.05,"c41":8.22,"c42":8.40,"c43":8.61,"c44":8.81},
{"t":452,"c35":7.24,"c36":7.40,"c37":7.56,"c38":7.70,"c39":7.92},
{"t":455,"c39":7.91,"c40":8.06,"c41":8.23,"c42":8.41,"c43":8.60,"c44":8.80},
{"t":456,"c35":7.13,"c36":7.33,"c37":7.50,"c38":7.68},
{"t":460,"c35":7.09,"c36":7.29,"c37":7.46,"c38":7.66,"c39":7.90,"c40":8.05,"c41":8.22,"c42":8.39,"c43":8.61,"c44":8.79},
{"t":465,"c39":7.87,"c40":8.04,"c41":8.21,"c42":8.38,"c43":8.60,"c44":8.81},
{"t":470,"c35":7.06,"c36":7.25,"c37":7.44,"c38":7.64,"c39":7.85,"c40":8.03,"c41":8.20,"c42":8.37,"c43":8.59,"c44":8.78},
{"t":475,"c39":7.83,"c40":8.04,"c41":8.19,"c42":8.35,"c43":8.61,"c44":8.82},
{"t":480,"c35":7.05,"c36":7.24,"c37":7.43,"c38":7.63,"c39":7.82,"c40":8.03,"c41":8.20,"c42":8.33,"c43":8.60,"c44":8.80},
{"t":485,"c39":7.81,"c40":8.02,"c41":8.19,"c42":8.35,"c43":8.59,"c44":8.79},
{"t":490,"c35":7.04,"c36":7.22,"c37":7.42,"c38":7.62,"c39":7.80,"c40":8.03,"c41":8.19,"c42":8.38,"c43":8.61,"c44":8.81},
{"t":495,"c39":7.79,"c40":8.04,"c41":8.20,"c42":8.39,"c43":8.60,"c44":8.79},
{"t":500,"c35":7.04,"c36":7.21,"c37":7.41,"c38":7.61,"c39":7.80,"c40":8.03,"c41":8.19,"c42":8.40,"c43":8.59,"c44":8.78},
{"t":505,"c39":7.78,"c40":8.02,"c41":8.18,"c42":8.39,"c43":8.61,"c44":8.80},
{"t":510,"c35":7.04,"c36":7.21,"c37":7.40,"c38":7.60,"c39":7.80,"c40":8.04,"c41":8.19,"c42":8.38,"c43":8.60,"c44":8.79},
{"t":515,"c39":7.79,"c40":8.03,"c41":8.20,"c42":8.40,"c43":8.60,"c44":8.78},
{"t":520,"c35":7.03,"c36":7.21,"c37":7.41,"c38":7.61,"c39":7.81,"c40":8.02,"c41":8.19,"c42":8.39,"c43":8.59,"c44":8.80},
{"t":525,"c39":7.79,"c40":8.04,"c41":8.18,"c42":8.38,"c43":8.61,"c44":8.79},
{"t":530,"c35":7.03,"c36":7.20,"c37":7.40,"c38":7.60,"c39":7.78,"c40":8.03,"c41":8.19,"c42":8.40,"c43":8.60,"c44":8.78},
{"t":535,"c39":7.80,"c40":8.02,"c41":8.20,"c42":8.39,"c43":8.59,"c44":8.80},
{"t":540,"c35":7.03,"c36":7.21,"c37":7.40,"c38":7.61,"c39":7.79,"c40":8.04,"c41":8.19,"c42":8.38,"c43":8.61,"c44":8.79},
{"t":545,"c39":7.80,"c40":8.03,"c41":8.18,"c42":8.39,"c43":8.60,"c44":8.78},
{"t":550,"c35":7.03,"c36":7.20,"c37":7.41,"c38":7.60,"c39":7.79,"c40":8.02,"c41":8.19,"c42":8.40,"c43":8.59,"c44":8.79},
{"t":555,"c39":7.78,"c40":8.04,"c41":8.20,"c42":8.38,"c43":8.61,"c44":8.80},
{"t":560,"c35":7.03,"c36":7.21,"c37":7.40,"c38":7.61,"c39":7.80,"c40":8.03,"c41":8.19,"c42":8.39,"c43":8.60,"c44":8.81},
{"t":565,"c39":7.81,"c40":8.02,"c41":8.18,"c42":8.40,"c43":8.59,"c44":8.79},
{"t":570,"c35":7.03,"c36":7.20,"c37":7.41,"c38":7.60,"c39":7.79,"c40":8.04,"c41":8.19,"c42":8.38,"c43":8.61,"c44":8.78},
{"t":575,"c39":7.80,"c40":8.03,"c41":8.20,"c42":8.39,"c43":8.60,"c44":8.80},
{"t":580,"c35":7.03,"c36":7.21,"c37":7.40,"c38":7.61,"c39":7.78,"c40":8.02,"c41":8.19,"c42":8.40,"c43":8.59,"c44":8.79},
{"t":585,"c39":7.80,"c40":8.04,"c41":8.19,"c42":8.38,"c43":8.61,"c44":8.81},
{"t":590,"c35":7.03,"c36":7.20,"c37":7.40,"c38":7.60,"c39":7.79,"c40":8.03,"c41":8.18,"c42":8.39,"c43":8.60,"c44":8.78},
{"t":595,"c39":7.81,"c40":8.02,"c41":8.20,"c42":8.39,"c43":8.61,"c44":8.77},
{"t":598,"c37":7.40,"c38":7.60},
{"t":600,"c35":7.03,"c36":7.20,"c37":7.50,"c38":7.70,"c39":7.80,"c40":8.03,"c41":8.19,"c42":8.38,"c43":8.60,"c44":8.75}
]
},
"hconcat": [
{
  "width": 1835,
  "height": 1393,
  "layer": [
    {
      "data": {"name": "refs"},
      "mark": {"type": "rule", "strokeWidth": 1.3, "opacity": 0.6},
      "encoding": {
        "x": {"datum": 10, "type": "quantitative", "scale": {"domain": [0, 600], "nice": false, "zero": false}, "axis": {"orient": "bottom", "tickCount": 300, "labels": false, "domain": false, "tickSize": 3.5, "title": null, "grid": false}},
        "x2": {"datum": 600},
        "y": {"field": "y", "type": "quantitative", "scale": {"domain": [-0.2, 10], "nice": false, "zero": false}, "axis": {"values": [0, 2, 4, 6, 8, 10], "title": null, "tickSize": 6}},
        "stroke": {"field": "g", "type": "nominal", "scale": {"domain": ["r", "g", "b"], "range": ["#ff0000", "#008000", "#0000ff"]}, "legend": null}
      }
    },
    {
      "data": {"name": "traces"},
      "transform": [
        {"fold": ["c0","c1","c2","c3","c4","c5","c6","c7","c8","c9","c10","c11","c12","c13","c14","c15","c16","c17","c18","c19","c20","c21","c22","c23","c24","c25","c26","c27","c28","c29","c30","c31","c32","c33","c34","c35","c36","c37","c38","c39","c40","c41","c42","c43","c44"], "as": ["k", "v"]},
        {"filter": "isValid(datum.v)"}
      ],
      "mark": {"type": "line", "strokeWidth": 2},
      "encoding": {
        "x": {"field": "t", "type": "quantitative", "axis": {"orient": "bottom", "values": [0,20,40,60,80,100,120,140,160,180,200,220,240,260,280,300,320,340,360,380,400,420,440,460,480,500,520,540,560,580,600], "labelExpr": "(floor(datum.value/60) < 10 ? '0' : '') + floor(datum.value/60) + ':' + (datum.value % 60 < 10 ? '0' : '') + (datum.value % 60)", "tickSize": 6, "title": null, "grid": false}},
        "y": {"field": "v", "type": "quantitative", "axis": {"values": [0, 2, 4, 6, 8, 10], "title": null, "tickSize": 6}},
        "color": {"field": "k", "type": "nominal", "scale": {"domain": ["c0","c1","c2","c3","c4","c5","c6","c7","c8","c9","c10","c11","c12","c13","c14","c15","c16","c17","c18","c19","c20","c21","c22","c23","c24","c25","c26","c27","c28","c29","c30","c31","c32","c33","c34","c35","c36","c37","c38","c39","c40","c41","c42","c43","c44"], "range": ["#ff0000","#fa0300","#f50500","#f00800","#eb0a00","#e60d00","#e00f00","#db1200","#d61400","#d11700","#cc1a00","#c71c00","#c21f00","#bd2100","#b82400","#b32600","#ad2900","#a62d00","#9c3200","#923700","#883c00","#804000","#784400","#6e4800","#644e00","#585400","#4a5c00","#3a6400","#2a6c00","#1a7400","#0a7c00","#008000","#007a14","#007228","#006a3c","#00624e","#005a60","#005270","#004a80","#003c98","#0030b0","#0024c8","#0018dc","#000cee","#0000ff"]}, "legend": null}
      }
    }
  ],
  "resolve": {"axis": {"x": "independent"}}
},
{
  "width": 52,
  "height": 1393,
  "data": {"name": "dots"},
  "layer": [
    {
      "mark": {"type": "line", "color": "#555555", "strokeWidth": 1.2},
      "encoding": {
        "x": {"field": "x", "type": "quantitative", "scale": {"domain": [-1.6, 1.6], "nice": false, "zero": false}, "axis": {"values": [-1, 0, 1], "labels": false, "title": null, "tickSize": 6, "grid": false}},
        "y": {"field": "y", "type": "quantitative", "scale": {"domain": [-0.2, 10], "nice": false, "zero": false}, "axis": {"values": [0, 2, 4, 6, 8, 10], "labels": false, "title": null, "tickSize": 6}},
        "order": {"field": "y", "type": "quantitative"}
      }
    },
    {
      "mark": {"type": "circle", "size": 110, "opacity": 1},
      "encoding": {
        "x": {"field": "x", "type": "quantitative"},
        "y": {"field": "y", "type": "quantitative"},
        "color": {"field": "k", "type": "nominal", "scale": {"domain": ["c0","c1","c2","c3","c4","c5","c6","c7","c8","c9","c10","c11","c12","c13","c14","c15","c16","c17","c18","c19","c20","c21","c22","c23","c24","c25","c26","c27","c28","c29","c30","c31","c32","c33","c34","c35","c36","c37","c38","c39","c40","c41","c42","c43","c44"], "range": ["#ff0000","#fa0300","#f50500","#f00800","#eb0a00","#e60d00","#e00f00","#db1200","#d61400","#d11700","#cc1a00","#c71c00","#c21f00","#bd2100","#b82400","#b32600","#ad2900","#a62d00","#9c3200","#923700","#883c00","#804000","#784400","#6e4800","#644e00","#585400","#4a5c00","#3a6400","#2a6c00","#1a7400","#0a7c00","#008000","#007a14","#007228","#006a3c","#00624e","#005a60","#005270","#004a80","#003c98","#0030b0","#0024c8","#0018dc","#000cee","#0000ff"]}, "legend": null}
      }
    }
  ]
}
]
}
